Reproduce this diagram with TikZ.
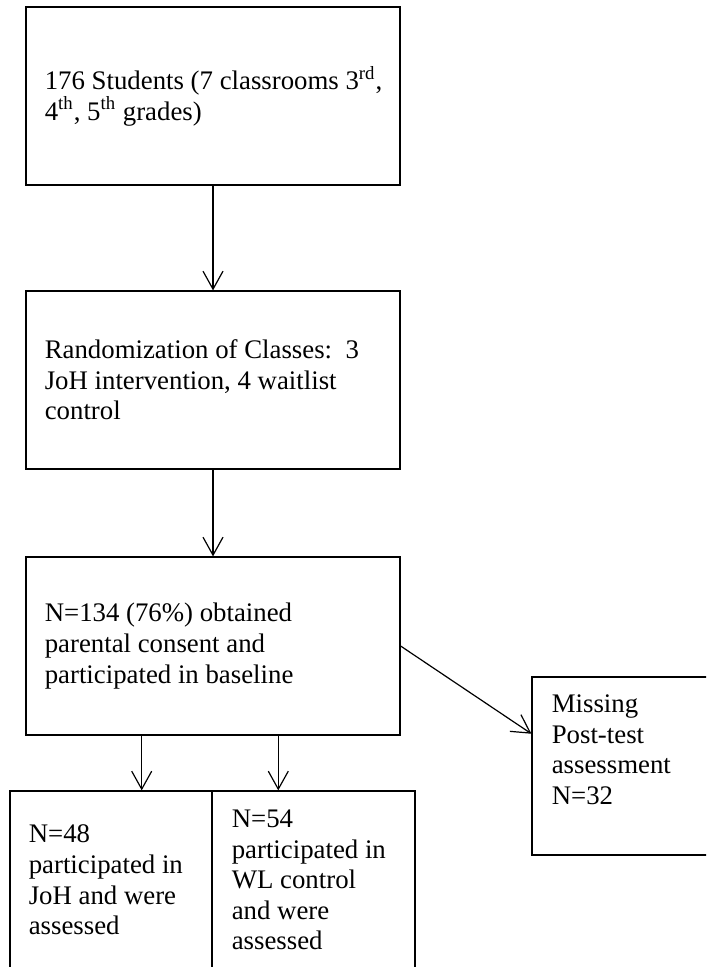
\documentclass[tikz,border=0pt]{standalone}
\usepackage{fontspec}
\setmainfont{Liberation Serif}
\usepackage{tikz}
\usetikzlibrary{arrows.meta,calc}

\begin{document}
\begin{tikzpicture}
                \tikzset{x={(0.5pt, 0pt)}, y={(0pt, -0.5pt)}}
                \tikzset{
                    stagebox/.style={draw, line width=0.6pt, rectangle, inner sep=0pt, minimum height=89pt},
                    stagetext/.style={inner sep=0pt, align=left, font=\fontsize{13.4pt}{15.3pt}\selectfont},
                    flow/.style={-{Straight Barb[length=9pt,width=10pt]}, line width=0.6pt}
                }
                \clip (0, 0) rectangle (706, 967);
                \node[stagebox, minimum width=187pt]   (students) at (213,  96) {};
                \node[stagebox, minimum width=187pt]   (random)   at (213, 380) {};
                \node[stagebox, minimum width=187pt]   (consent)  at (213, 646) {};
                \node[stagebox, minimum width=101pt]   (joh)      at (111, 880) {};
                \node[stagebox, minimum width=101.5pt] (wl)       at (313.5, 880) {};
                \node[stagebox, minimum width=104pt]   (missing)  at (636, 766) {};
                \node[stagetext, anchor=west] (studentstext) at ([xshift=9.5pt]students.west)
                    {176 Students (7 classrooms 3\textsuperscript{rd},\\4\textsuperscript{th}, 5\textsuperscript{th} grades)};
                \node[stagetext, anchor=west] (randomtext) at ([xshift=9.5pt]random.west)
                    {Randomization of Classes:\ \ 3\\JoH intervention, 4 waitlist\\control};
                \node[stagetext, anchor=west] (consenttext) at ([xshift=9.5pt]consent.west)
                    {N=134 (76\%) obtained\\parental consent and\\participated in baseline};
                \node[stagetext, anchor=west] (johtext) at ([xshift=9.5pt]joh.west)
                    {N=48\\participated in\\JoH and were\\assessed};
                \node[stagetext, anchor=west] (wltext) at ([xshift=10pt]wl.west)
                    {N=54\\participated in\\WL control\\and were\\assessed};
                \node[stagetext, anchor=north west] (missingtext) at ([xshift=10pt, yshift=-9pt]missing.north west)
                    {Missing\\Post-test\\assessment\\N=32};
                \coordinate (johdrop) at ($(consent.south west)!0.31!(consent.south east)$);
                \coordinate (wldrop)  at ($(consent.south west)!0.674!(consent.south east)$);
                \coordinate (missin)  at ($(missing.north west)!0.32!(missing.south west)$);
                \draw[flow] (students) -- (random);
                \draw[flow] (random) -- (consent);
                \draw[flow] (johdrop) -- (johdrop |- joh.north);
                \draw[flow] (wldrop) -- (wldrop |- wl.north);
                \draw[flow] (consent.east) -- (missin);
            \end{tikzpicture}
\end{document}
